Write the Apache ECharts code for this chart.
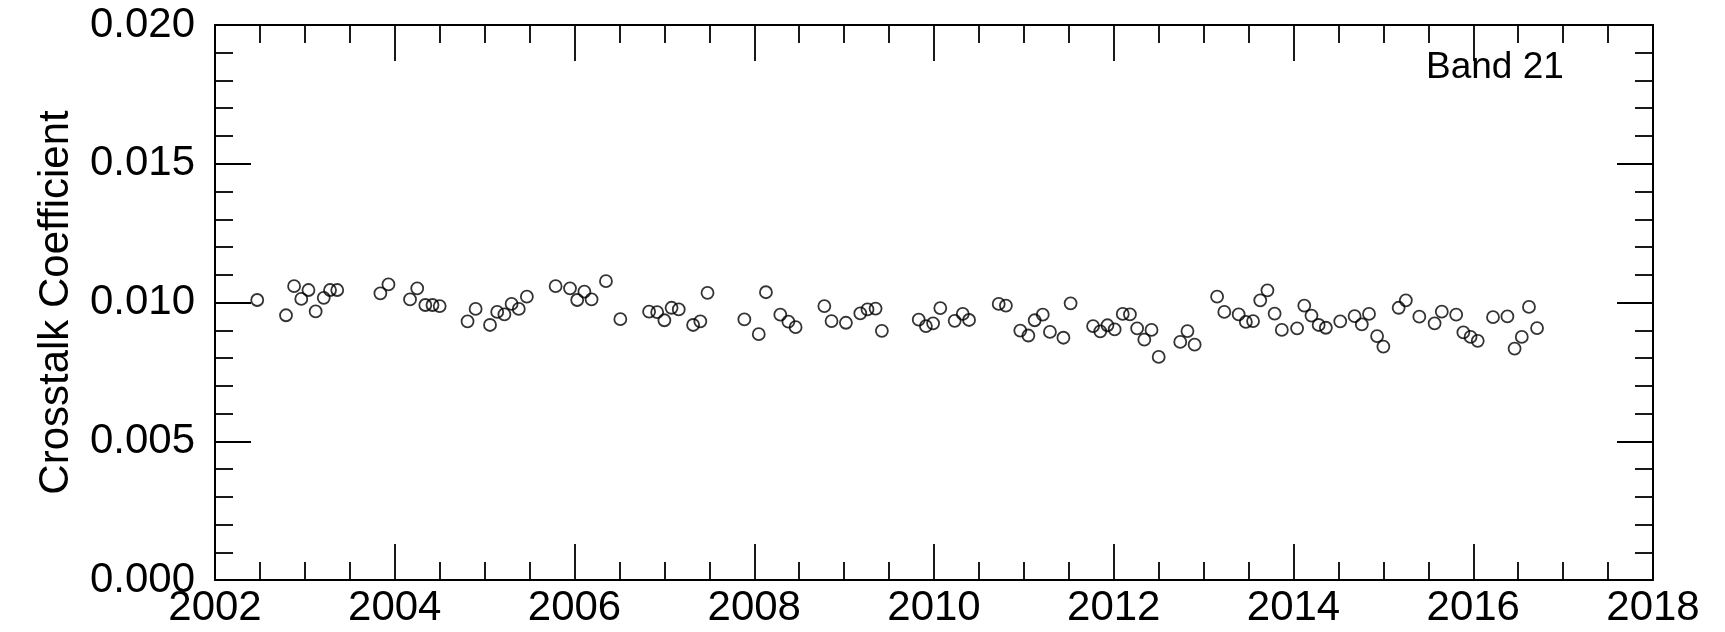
<!DOCTYPE html>
<html>
<head>
<meta charset="utf-8">
<title>Band 21</title>
<script src="https://cdn.jsdelivr.net/npm/echarts@6/dist/echarts.min.js"></script>
<style>
	html, body { margin: 0; padding: 0; background: #fff; }
	#chart { width: 1725px; height: 632px; }
</style>
</head>
<body>
<div id="chart"></div>
<script>
// 观测时间（年）
var years = [
	2002.47, 2002.79, 2002.88, 2002.96, 2003.04, 2003.12, 2003.21, 2003.28, 2003.36,
	2003.84, 2003.93, 2004.17, 2004.25, 2004.34, 2004.42, 2004.50,
	2004.81, 2004.90, 2005.06, 2005.14, 2005.22, 2005.30, 2005.38, 2005.47,
	2005.79, 2005.95, 2006.03, 2006.11, 2006.19, 2006.35, 2006.51,
	2006.83, 2006.92, 2007.00, 2007.08, 2007.16, 2007.32, 2007.40, 2007.48,
	2007.89, 2008.05, 2008.13, 2008.29, 2008.38, 2008.46,
	2008.78, 2008.86, 2009.02, 2009.18, 2009.26, 2009.35, 2009.42,
	2009.83, 2009.91, 2009.99, 2010.07, 2010.23, 2010.32, 2010.39,
	2010.72, 2010.80, 2010.96, 2011.05, 2011.12, 2011.21, 2011.29, 2011.44, 2011.52,
	2011.77, 2011.85, 2011.93, 2012.01, 2012.10, 2012.18, 2012.26, 2012.34, 2012.42, 2012.50,
	2012.74, 2012.82, 2012.90, 2013.15, 2013.23, 2013.39, 2013.47, 2013.55, 2013.63, 2013.71,
	2013.79, 2013.87, 2014.04, 2014.12, 2014.20, 2014.28, 2014.36, 2014.52,
	2014.68, 2014.76, 2014.84, 2014.93, 2015.00, 2015.17, 2015.25, 2015.40,
	2015.57, 2015.65, 2015.81, 2015.89, 2015.97, 2016.05, 2016.22, 2016.38,
	2016.46, 2016.54, 2016.62, 2016.71
];
// 串扰系数
var coeffs = [
	0.01009, 0.00954, 0.01059, 0.01013, 0.01045, 0.00968, 0.01017, 0.01045, 0.01045,
	0.01033, 0.01065, 0.01011, 0.01051, 0.00991, 0.00991, 0.00987,
	0.00932, 0.00977, 0.00919, 0.00966, 0.00957, 0.00995, 0.00977, 0.01021,
	0.01059, 0.01051, 0.01009, 0.01039, 0.01011, 0.01077, 0.00940,
	0.00967, 0.00965, 0.00936, 0.00981, 0.00975, 0.00919, 0.00932, 0.01035,
	0.00939, 0.00886, 0.01037, 0.00956, 0.00931, 0.00911,
	0.00987, 0.00933, 0.00927, 0.00961, 0.00975, 0.00978, 0.00898,
	0.00938, 0.00915, 0.00925, 0.00980, 0.00934, 0.00959, 0.00937,
	0.00995, 0.00989, 0.00899, 0.00881, 0.00936, 0.00956, 0.00894, 0.00873, 0.00997,
	0.00915, 0.00896, 0.00918, 0.00903, 0.00959, 0.00957, 0.00907, 0.00866, 0.00901, 0.00804,
	0.00858, 0.00897, 0.00848, 0.01021, 0.00966, 0.00957, 0.00930, 0.00933, 0.01008, 0.01044,
	0.00960, 0.00901, 0.00907, 0.00989, 0.00953, 0.00919, 0.00909, 0.00932,
	0.00951, 0.00921, 0.00959, 0.00879, 0.00841, 0.00981, 0.01008, 0.00949,
	0.00925, 0.00967, 0.00956, 0.00892, 0.00876, 0.00862, 0.00947, 0.00950,
	0.00834, 0.00876, 0.00984, 0.00908
];
var bandLabel = 'Band 21';
var yTitle = 'Crosstalk Coefficient';

var font = '"Liberation Sans", Arial, Helvetica, sans-serif';
var ink = '#000';

// 四边都有刻度，主刻度长、次刻度短，朝内
function frameAxis(pos, minor) {
	return {
		type: 'value',
		position: pos,
		axisLine: { show: true, onZero: false, lineStyle: { color: ink, width: 2 } },
		axisTick: { show: true, inside: true, length: 36, lineStyle: { color: ink, width: 1.8 } },
		minorTick: { show: true, splitNumber: minor, length: 18, lineStyle: { color: ink, width: 1.8 } },
		splitLine: { show: false },
		minorSplitLine: { show: false },
		axisLabel: { show: false }
	};
}

var xBottom = Object.assign(frameAxis('bottom', 4), {
	min: 2002, max: 2018, interval: 2,
	axisLabel: {
		show: true, margin: 7, color: ink, fontSize: 42, fontFamily: font,
		formatter: function(v) { return String(v); }
	}
});
var xTop = Object.assign(frameAxis('top', 4), { min: 2002, max: 2018, interval: 2 });

var yLeft = Object.assign(frameAxis('left', 5), {
	min: 0, max: 0.02, interval: 0.005,
	name: yTitle,
	nameLocation: 'middle',
	nameGap: 138,
	nameTextStyle: { color: ink, fontSize: 42, fontFamily: font },
	axisLabel: {
		show: true, margin: 20, color: ink, fontSize: 42, fontFamily: font,
		formatter: function(v) { return v.toFixed(3); }
	}
});
var yRight = Object.assign(frameAxis('right', 5), { min: 0, max: 0.02, interval: 0.005 });

var chart = echarts.init(document.getElementById('chart'), null, { renderer: 'canvas' });
chart.setOption({
	animation: false,
	backgroundColor: '#fff',
	grid: { left: 215, right: 72, top: 25, bottom: 52, containLabel: false },
	xAxis: [xBottom, xTop],
	yAxis: [yLeft, yRight],
	graphic: [{
		type: 'text',
		left: 1426,
		top: 49,
		style: { text: bandLabel, fill: ink, font: '37px ' + font }
	}],
	series: [{
		type: 'scatter',
		xAxisIndex: 0,
		yAxisIndex: 0,
		symbol: 'circle',
		symbolSize: 12,
		itemStyle: { color: 'rgba(0,0,0,0)', borderColor: ink, borderWidth: 1.8 },
		data: years.map(function(t, i) { return [t, coeffs[i]]; })
	}]
});
</script>
</body>
</html>
